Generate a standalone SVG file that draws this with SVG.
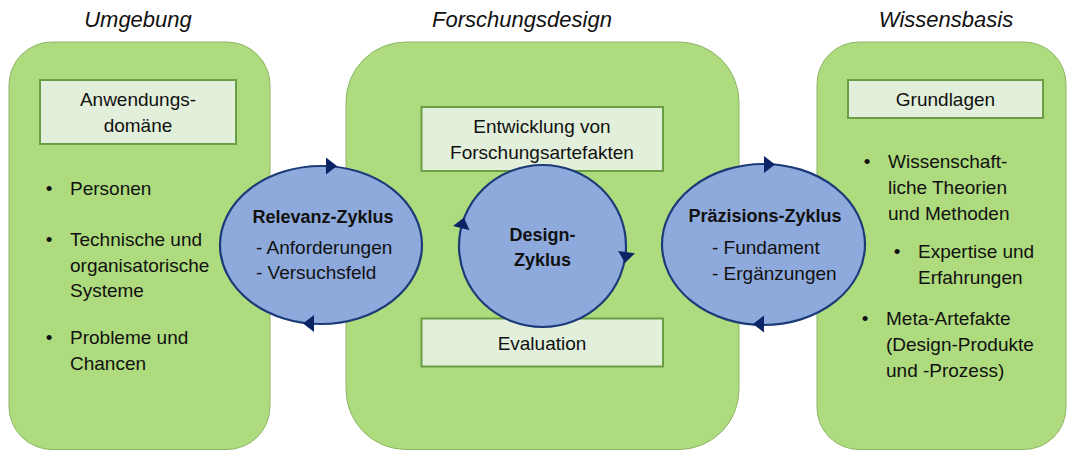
<svg xmlns="http://www.w3.org/2000/svg" width="1067" height="451" viewBox="0 0 1067 451">
<style>
.panel{fill:#AEDB7E;stroke:#8FB56A;stroke-width:1}
.box{fill:#E2EFDA;stroke:#6A9E45;stroke-width:2}
.cyc{fill:#8EAADC;stroke:#1B3A78;stroke-width:2.2}
.t{font-family:"Liberation Sans",Arial,sans-serif;font-size:19px;fill:#111}
.c{text-anchor:middle}
.b{font-weight:bold;font-size:18px}
.h{font-style:italic;font-size:22px;text-anchor:middle}
.ah{fill:#0B2466}
</style>
<defs>
<polygon id="arr" points="-11,-8.5 0,0 -11,8.5"/>
</defs>
<rect width="1067" height="451" fill="#ffffff"/>
<g id="titles">
<text class="t h" x="138" y="27">Umgebung</text>
<text class="t h" x="522" y="27">Forschungsdesign</text>
<text class="t h" x="946" y="27">Wissensbasis</text>
</g>
<g id="umgebung">
<rect class="panel" x="9" y="42" width="261" height="407.5" rx="43" ry="43"/>
<rect class="box" x="40" y="80" width="196" height="64"/>
<text class="t c" x="138" y="106">Anwendungs-</text>
<text class="t c" x="138" y="131.5">domäne</text>
<text class="t c" x="49" y="195">•</text>
<text class="t" x="70" y="195">Personen</text>
<text class="t c" x="49" y="246">•</text>
<text class="t" x="70" y="246">Technische und</text>
<text class="t" x="70" y="272">organisatorische</text>
<text class="t" x="70" y="297">Systeme</text>
<text class="t c" x="49" y="344">•</text>
<text class="t" x="70" y="344">Probleme und</text>
<text class="t" x="70" y="370">Chancen</text>
</g>
<g id="forschungsdesign">
<rect class="panel" x="346" y="42" width="393" height="407.5" rx="60" ry="60"/>
<rect class="box" x="421.5" y="107" width="241.5" height="64"/>
<text class="t c" x="542" y="132.5">Entwicklung von</text>
<text class="t c" x="542" y="158.5">Forschungsartefakten</text>
<rect class="box" x="421.5" y="318.5" width="241.5" height="48"/>
<text class="t c" x="542" y="349.5">Evaluation</text>
</g>
<g id="wissensbasis">
<rect class="panel" x="817" y="42" width="249" height="407.5" rx="42" ry="42"/>
<rect class="box" x="848" y="80" width="195" height="38"/>
<text class="t c" x="945.5" y="106">Grundlagen</text>
<text class="t c" x="867" y="168">•</text>
<text class="t" x="888" y="168">Wissenschaft-</text>
<text class="t" x="888" y="194">liche Theorien</text>
<text class="t" x="888" y="220">und Methoden</text>
<text class="t c" x="897" y="258">•</text>
<text class="t" x="918" y="258">Expertise und</text>
<text class="t" x="918" y="284">Erfahrungen</text>
<text class="t c" x="865" y="325">•</text>
<text class="t" x="886" y="325">Meta-Artefakte</text>
<text class="t" x="886" y="351">(Design-Produkte</text>
<text class="t" x="886" y="377">und -Prozess)</text>
</g>
<g id="relevanz-zyklus">
<ellipse class="cyc" cx="321" cy="245" rx="101" ry="79"/>
<text class="t c b" x="323" y="223">Relevanz-Zyklus</text>
<text class="t" x="256" y="254">- Anforderungen</text>
<text class="t" x="256" y="279">- Versuchsfeld</text>
</g>
<g id="design-zyklus">
<ellipse class="cyc" cx="542.5" cy="246" rx="83.5" ry="81"/>
<text class="t c b" x="542.5" y="241">Design-</text>
<text class="t c b" x="542.5" y="265.5">Zyklus</text>
</g>
<g id="praezisions-zyklus">
<ellipse class="cyc" cx="763.5" cy="244.5" rx="101.5" ry="80.5"/>
<text class="t c b" x="765" y="222">Präzisions-Zyklus</text>
<text class="t" x="712" y="254">- Fundament</text>
<text class="t" x="712" y="280">- Ergänzungen</text>
</g>
<g id="connectors" class="ah">
<use href="#arr" transform="translate(337,166)"/>
<use href="#arr" transform="translate(303,323.5) rotate(180)"/>
<use href="#arr" transform="translate(464,217.5) rotate(-76)"/>
<use href="#arr" transform="translate(625,263) rotate(98)"/>
<use href="#arr" transform="translate(775,164.5)"/>
<use href="#arr" transform="translate(753,324) rotate(180)"/>
</g>
</svg>
